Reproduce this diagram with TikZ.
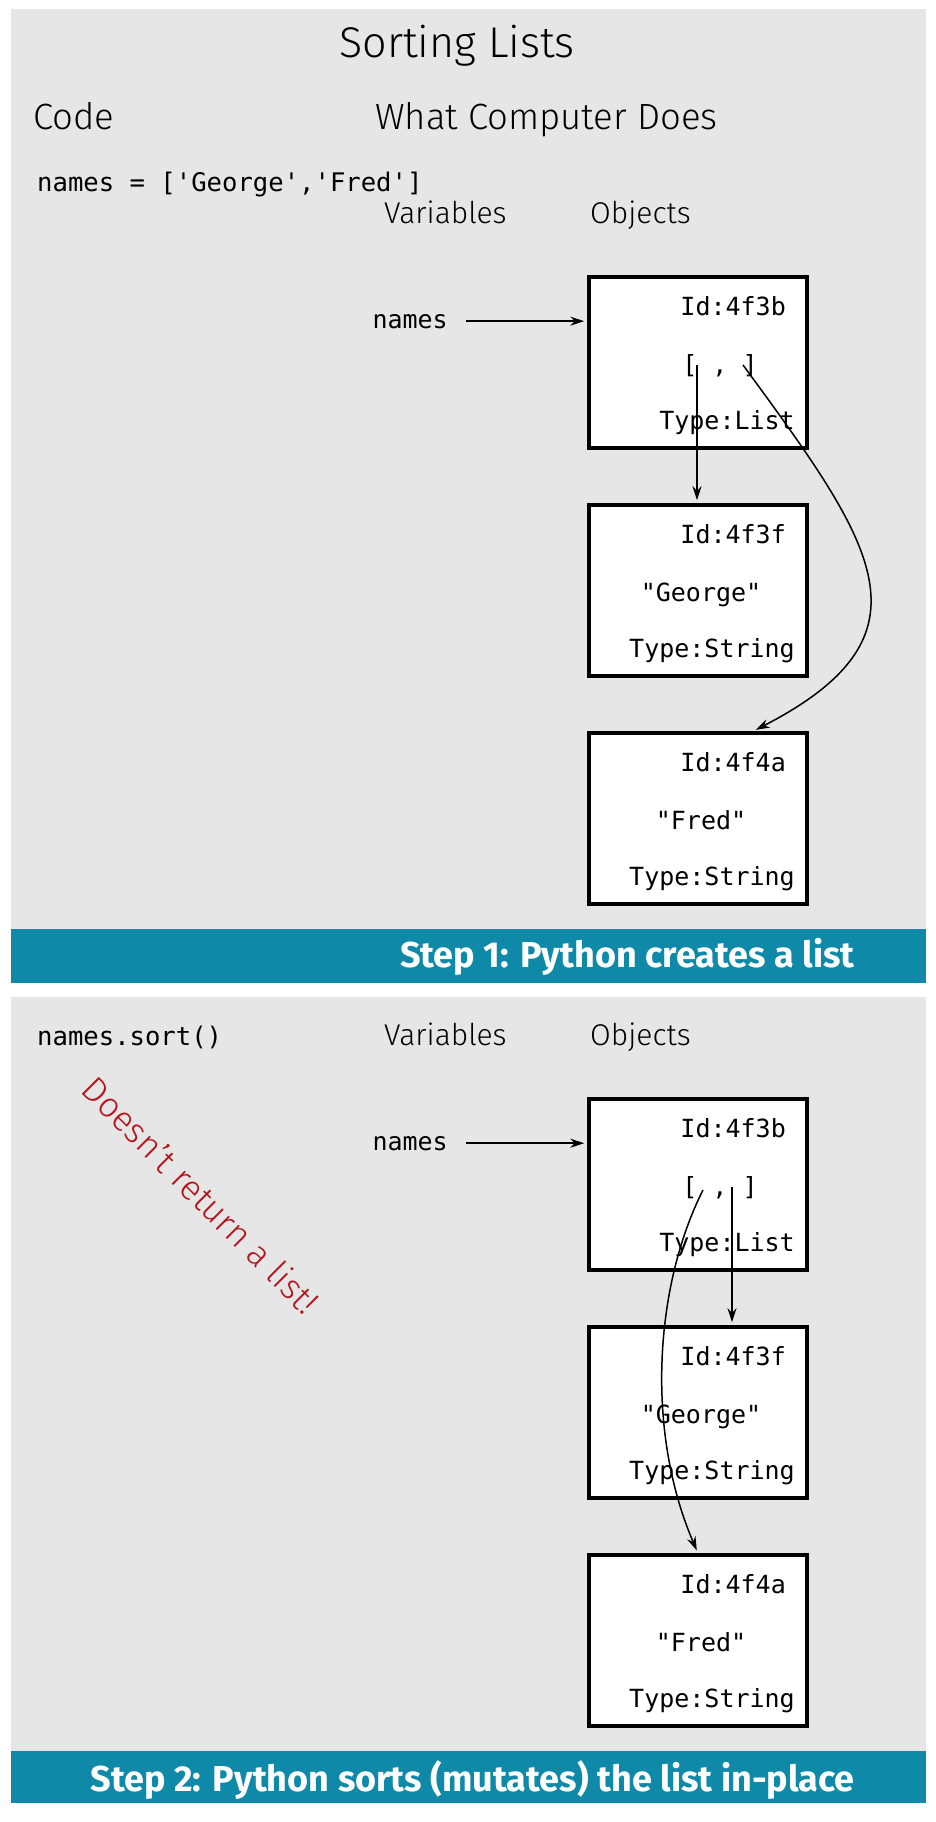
\documentclass[tikz,border=0pt]{standalone}
\usepackage{fontspec}
\setmonofont{DejaVu Sans Mono}
\newfontfamily\lightsans{Fira Sans Light}
\newfontfamily\stepsans{Fira Sans}
\usetikzlibrary{arrows.meta}
\definecolor{panelgray}{HTML}{E6E6E6}
\definecolor{stepteal}{HTML}{0F89A8}
\definecolor{noteRed}{HTML}{B5141C}

\begin{document}
\begin{tikzpicture}[x=1pt, y=-1pt,
  every node/.style={inner sep=0pt},
  heading/.style={font=\lightsans\fontsize{36.5}{40}\selectfont, anchor=base west},
  colhead/.style={font=\lightsans\fontsize{30}{34}\selectfont, anchor=base west},
  code/.style={font=\ttfamily\fontsize{25}{28}\selectfont},
  objbox/.style={draw, line width=3.5pt, fill=white, minimum width=218pt, minimum height=171pt},
  steplabel/.style={font=\stepsans\bfseries\fontsize{36}{40}\selectfont, text=white, anchor=base east},
  ref/.style={-{Stealth[length=14pt,width=9pt]}, line width=1.5pt, shorten >=3pt}]

\useasboundingbox (0,0) rectangle (936,1822);

% backgrounds of the two steps
\fill[panelgray] (11,9) rectangle (926,929);
\fill[stepteal] (11,929) rectangle (926,983);
\fill[panelgray] (11,997) rectangle (926,1751);
\fill[stepteal] (11,1751) rectangle (926,1803);

% headings
\node[font=\lightsans\fontsize{43}{48}\selectfont, anchor=base] (title) at (457,58) {Sorting Lists};
\node[heading] (code) at (33,130) {Code};
\node[heading] (computer) at (375,130) {What Computer Does};

% code lines
\node[code, anchor=base west, font=\ttfamily\fontsize{25.6}{28}\selectfont] (assign) at (37,192) {names = ['George','Fred']};
\node[code, anchor=base west, font=\ttfamily\fontsize{25.6}{28}\selectfont] (sortcall) at (37,1045) {names.sort()};

\node[font=\lightsans\fontsize{35}{40}\selectfont, text=noteRed, rotate=-45] (warning) at (201,1195) {Doesn’t return a list!};

% variables and objects of both steps
\foreach \p/\dy in {1/0, 2/822} {
  \node[colhead] (vars\p) at (384,223+\dy) {Variables};
  \node[colhead] (objs\p) at (590,223+\dy) {Objects};
  \node[code, anchor=base east] (var\p) at (448,328+\dy) {names};

  \node[objbox] (list\p) at (698,362.5+\dy) {};
  \node[objbox] (george\p) at (698,590.5+\dy) {};
  \node[objbox] (fred\p) at (698,818.5+\dy) {};

  \node[code, anchor=base east] (listid\p) at (786,315.5+\dy) {Id:4f3b};
  \node[code, anchor=base] (listval\p) at (720,373.5+\dy) {[ , ]};
  \node[code, anchor=base east] (listtype\p) at (795,429+\dy) {Type:List};

  \node[code, anchor=base east] (georgeid\p) at (786,543.5+\dy) {Id:4f3f};
  \node[code, anchor=base] (georgeval\p) at (701,601.5+\dy) {"George"};
  \node[code, anchor=base east] (georgetype\p) at (795,657+\dy) {Type:String};

  \node[code, anchor=base east] (fredid\p) at (786,771.5+\dy) {Id:4f4a};
  \node[code, anchor=base] (fredval\p) at (701,829.5+\dy) {"Fred"};
  \node[code, anchor=base east] (fredtype\p) at (795,885+\dy) {Type:String};

  \draw[ref, shorten <=18pt] (var\p.east) -- (var\p.east -| list\p.west);
}

% step 1: list points at both strings
\coordinate (first1) at (697,365);
\coordinate (second1) at (743,365);
\draw[ref] (first1) -- (first1 |- george1.north);
\draw[ref] (second1) .. controls (875,545) and (940,635) .. ([xshift=55pt]fred1.north);

% step 2: the order is swapped
\coordinate (first2) at (703,1190);
\coordinate (second2) at (732,1187);
\draw[ref] (second2) -- (second2 |- george2.north);
\draw[ref] (first2) .. controls (655,1285) and (645,1430) .. (fred2.north);

% step labels
\node[steplabel] (step1) at (855,967) {Step 1: Python creates a list};
\node[steplabel] (step2) at (855,1791) {Step 2: Python sorts (mutates) the list in-place};

\end{tikzpicture}
\end{document}
